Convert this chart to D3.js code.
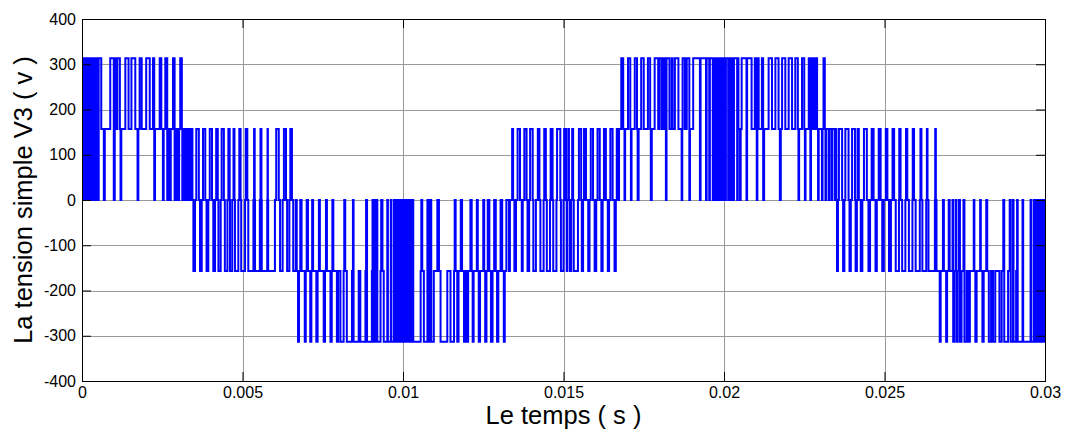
<!DOCTYPE html>
<html>
<head>
<meta charset="utf-8">
<script src="https://cdn.jsdelivr.net/npm/d3@7"></script>
<style>
  body { margin: 0; background: #fff; }
  svg { display: block; }
  text { font-family: "Liberation Sans", Arial, sans-serif; }
</style>
</head>
<body>
<svg width="1070" height="434"></svg>
<script>
// axes
const xTicks = [0, 0.005, 0.01, 0.015, 0.02, 0.025, 0.03];
const yTicks = [-400, -300, -200, -100, 0, 100, 200, 300, 400];

const v3_0to3 = [
  [0, 313], [0.02, 0], [0.045, 313], [0.07, 0], [0.095, 313], [0.14, 0], [0.165, 313], [0.21, 0], [0.235, 313],
  [0.285, 0], [0.31, 313], [0.36, 0], [0.385, 313], [0.42, 0], [0.445, 313], [0.495, 0], [0.52, 313],
  [0.6, 157], [0.68, 0], [0.71, 157], [0.88, 313], [0.99, 0], [1.02, 313], [1.04, 157], [1.1, 313], [1.18, 157],
  [1.2, 0], [1.225, 157], [1.35, 313], [1.45, 157], [1.54, 313], [1.66, 157], [1.73, 0], [1.755, 157], [1.795, 313],
  [1.86, 157], [2.0, 313], [2.11, 157], [2.21, 313], [2.25, 0], [2.275, 157], [2.42, 313], [2.47, 157], [2.52, 0],
  [2.545, 157], [2.595, 313], [2.655, 0], [2.68, 157], [2.74, 0], [2.765, 157], [2.835, 313], [2.885, 0], [2.91, 157],
  [2.955, 0], [2.98, 157]
];
const v3_3to6 = [
  [3.0, 0], [3.025, 157], [3.06, 313], [3.11, 157], [3.125, 0], [3.15, 157], [3.18, 0], [3.205, 157], [3.24, 0],
  [3.265, 157], [3.31, 0], [3.335, 157], [3.375, 0], [3.4, 157], [3.44, 0], [3.47, -157], [3.52, 0], [3.56, 157],
  [3.64, 0], [3.676, -157], [3.73, 0], [3.77, 157], [3.84, 0], [3.88, -157], [3.935, 0], [3.98, 157], [4.05, 0],
  [4.09, -157], [4.145, 0], [4.18, 157], [4.23, 0], [4.25, -157], [4.32, 0], [4.35, 157], [4.42, 0], [4.45, -157],
  [4.53, 0], [4.56, 157], [4.6, 0], [4.61, -157], [4.68, 0], [4.72, 157], [4.75, 0], [4.765, -157], [4.87, 0],
  [4.9, 157], [4.94, 0], [4.96, -157], [5.08, 0], [5.1, 157], [5.15, 0], [5.18, -157], [5.34, 0], [5.36, 157],
  [5.38, 0], [5.39, -157], [5.54, 0], [5.56, 157], [5.59, 0], [5.6, -157], [5.77, 0], [5.78, 157], [5.79, 0],
  [5.8, -157], [6.01, 0]
];
const v3_6to9 = [
  [6.05, 157], [6.13, 0], [6.17, -157], [6.25, 0], [6.29, 157], [6.355, 0], [6.39, -157], [6.46, 0], [6.49, 157],
  [6.54, 0], [6.58, -157], [6.66, 0], [6.69, -157], [6.73, -313], [6.76, -157], [6.8, 0], [6.84, -157], [6.94, -313],
  [6.97, -157], [7.0, 0], [7.04, -157], [7.11, -313], [7.145, -157], [7.17, 0], [7.2, -157], [7.3, -313], [7.34, -157],
  [7.38, 0], [7.41, -157], [7.53, -313], [7.57, -157], [7.6, 0], [7.63, -157], [7.74, -313], [7.78, -157], [7.8, 0],
  [7.83, -157], [7.94, -313], [7.98, -157], [8.05, -313], [8.15, -157], [8.17, 0], [8.2, -157], [8.25, -313],
  [8.41, -157], [8.44, 0], [8.46, -313], [8.62, -157], [8.67, -313], [8.83, -157], [8.85, 0], [8.88, -313], [9.03, -157]
];
const v3_9to12 = [
  [9.05, 0], [9.07, -313], [9.1, 0], [9.12, -313], [9.15, 0], [9.2, -313], [9.3, -157], [9.32, 0], [9.36, -157],
  [9.4, -313], [9.51, 0], [9.53, -313], [9.62, 0], [9.64, -313], [9.72, 0], [9.74, -313], [9.8, 0], [9.82, -313],
  [9.87, 0], [9.89, -313], [9.94, 0], [9.96, -313], [10.01, 0], [10.03, -313], [10.08, 0], [10.1, -313], [10.16, 0],
  [10.18, -313], [10.24, 0], [10.26, -313], [10.3, 0], [10.32, -313], [10.55, -157], [10.57, 0], [10.6, -157],
  [10.65, -313], [10.76, 0], [10.8, -313], [10.86, 0], [10.88, -313], [10.96, -157], [11.07, 0], [11.12, -157],
  [11.17, -313], [11.38, -157], [11.48, -313], [11.59, -157], [11.61, 0], [11.64, -157], [11.69, -313], [11.73, -157],
  [11.8, 0], [11.84, -157], [11.9, -313], [11.94, -157]
];
const v3_12to15 = [
  [12.0, -313], [12.03, -157], [12.1, 0], [12.14, -157], [12.17, -313], [12.2, -157], [12.3, 0], [12.33, -157],
  [12.36, -313], [12.4, -157], [12.5, 0], [12.53, -157], [12.56, -313], [12.6, -157], [12.64, 0], [12.69, -157],
  [12.74, -313], [12.79, -157], [12.84, 0], [12.89, -157], [12.93, -313], [12.97, -157], [13.04, 0], [13.09, -157],
  [13.14, -313], [13.17, -157], [13.22, 0], [13.3, -157], [13.33, 0], [13.4, 157], [13.43, 0], [13.47, -157],
  [13.52, 0], [13.57, 157], [13.645, 0], [13.7, -157], [13.73, 0], [13.78, 157], [13.85, 0], [13.88, -157],
  [13.93, 0], [13.96, 157], [14.04, 0], [14.06, -157], [14.14, 0], [14.2, 157], [14.25, 0], [14.28, -157],
  [14.38, 0], [14.4, 157], [14.45, 0], [14.48, -157], [14.58, 0], [14.6, 157], [14.66, 0], [14.68, -157],
  [14.78, 0], [14.8, 157], [14.9, 0], [14.92, -157], [15.0, 0], [15.02, 157]
];
const v3_15to18 = [
  [15.08, 0], [15.1, -157], [15.12, 0], [15.15, 157], [15.17, 0], [15.2, -157], [15.24, 0], [15.27, 157], [15.3, 0],
  [15.32, -157], [15.45, 0], [15.48, 157], [15.55, 0], [15.57, -157], [15.61, 0], [15.64, 157], [15.7, 0],
  [15.77, -157], [15.81, 0], [15.85, 157], [15.92, 0], [15.97, -157], [16.02, 0], [16.06, 157], [16.13, 0],
  [16.18, -157], [16.22, 0], [16.26, 157], [16.32, 0], [16.38, -157], [16.42, 0], [16.46, 157], [16.53, 0],
  [16.59, -157], [16.63, 0], [16.66, 157], [16.7, 0], [16.73, 157], [16.8, 313], [16.86, 157], [16.9, 0],
  [16.92, 157], [17.01, 313], [17.08, 157], [17.1, 0], [17.12, 157], [17.22, 313], [17.29, 157], [17.31, 0],
  [17.34, 157], [17.42, 313], [17.5, 157], [17.63, 313], [17.7, 157], [17.72, 0], [17.75, 157], [17.84, 313],
  [17.95, 157], [17.99, 313], [18.06, 157]
];
const v3_18to21 = [
  [18.1, 313], [18.11, 157], [18.13, 313], [18.19, 0], [18.21, 313], [18.3, 157], [18.37, 313], [18.4, 157],
  [18.47, 313], [18.58, 157], [18.68, 0], [18.7, 157], [18.71, 313], [18.78, 157], [18.84, 313], [18.92, 0],
  [18.94, 157], [19.04, 313], [19.25, 0], [19.27, 313], [19.44, 0], [19.46, 313], [19.54, 0], [19.56, 313],
  [19.65, 0], [19.67, 313], [19.72, 0], [19.74, 313], [19.8, 0], [19.82, 313], [19.88, 0], [19.9, 313],
  [19.96, 0], [19.98, 313], [20.04, 0], [20.06, 313], [20.13, 0], [20.15, 313], [20.21, 0], [20.23, 313],
  [20.29, 0], [20.31, 313], [20.41, 0], [20.43, 313], [20.45, 157], [20.5, 0], [20.52, 157], [20.55, 313],
  [20.7, 0], [20.72, 313], [20.86, 157], [20.96, 313], [21.02, 0]
];
const v3_21to24 = [
  [21.04, 313], [21.08, 157], [21.18, 313], [21.22, 0], [21.25, 157], [21.39, 313], [21.495, 157], [21.6, 313],
  [21.7, 157], [21.74, 0], [21.77, 157], [21.81, 313], [21.91, 157], [22.015, 313], [22.12, 157], [22.22, 313],
  [22.3, 157], [22.32, 0], [22.34, 157], [22.43, 313], [22.5, 157], [22.52, 0], [22.54, 157], [22.64, 313],
  [22.69, 0], [22.71, 157], [22.74, 313], [22.78, 157], [22.84, 313], [22.9, 157], [22.93, 0], [22.95, 157],
  [23.05, 0], [23.07, 157], [23.1, 313], [23.14, 157], [23.16, 0], [23.18, 157], [23.26, 0], [23.28, 157],
  [23.35, 0], [23.37, 157], [23.45, 0], [23.47, 157], [23.5, 0], [23.52, -157], [23.55, 0], [23.58, 157],
  [23.68, 0], [23.71, -157], [23.75, 0], [23.78, 157], [23.88, 0], [23.91, -157], [23.95, 0], [23.99, 157],
  [24.08, 0], [24.1, -157]
];
const v3_24to27 = [
  [24.14, 0], [24.16, 157], [24.2, 0], [24.26, -157], [24.31, 0], [24.36, 157], [24.45, 0], [24.5, -157],
  [24.55, 0], [24.6, 157], [24.66, 0], [24.72, -157], [24.76, 0], [24.82, 157], [24.88, 0], [24.93, -157],
  [24.98, 0], [25.04, 157], [25.09, 0], [25.14, -157], [25.2, 0], [25.25, 157], [25.3, 0], [25.35, -157],
  [25.45, 0], [25.46, 157], [25.5, 0], [25.55, -157], [25.65, 0], [25.67, 157], [25.71, 0], [25.76, -157],
  [25.87, 0], [25.88, 157], [25.92, 0], [25.97, -157], [26.1, 0], [26.12, 157], [26.15, 0], [26.18, -157],
  [26.3, 0], [26.32, 157], [26.34, 0], [26.37, -157], [26.57, 0], [26.58, 157], [26.6, 0], [26.62, -157],
  [26.72, -313], [26.75, -157], [26.82, 0], [26.85, -157], [26.92, -313], [26.95, -157], [27.0, 0], [27.03, -157]
];
const v3_27to30 = [
  [27.12, 0], [27.14, -313], [27.17, -157], [27.22, 0], [27.24, -313], [27.28, -157], [27.32, 0], [27.35, -313],
  [27.4, -157], [27.46, 0], [27.49, -313], [27.56, -157], [27.62, -313], [27.66, -157], [27.78, 0], [27.8, -157],
  [27.83, -313], [27.87, -157], [27.98, 0], [28.0, -157], [28.05, -313], [28.09, -157], [28.17, 0], [28.2, -157],
  [28.25, -313], [28.32, -157], [28.38, -313], [28.45, -157], [28.58, -313], [28.65, -157], [28.7, 0], [28.73, -313],
  [28.85, -157], [28.9, 0], [28.93, -313], [29.0, 0], [29.02, -313], [29.1, -157], [29.13, 0], [29.15, -313],
  [29.3, 0], [29.32, -313], [29.55, 0], [29.57, -313], [29.65, 0], [29.67, -313], [29.73, 0], [29.75, -313],
  [29.8, 0], [29.82, -313], [29.88, 0], [29.9, -313], [29.96, 0], [29.98, -313], [30.0, -313]
];

const svg = d3.select("svg");
const W = 1070, H = 434;
const pL = 82, pR = 1045, pT = 19, pB = 381;

svg.append("rect").attr("width", W).attr("height", H).attr("fill", "#fff");

const x = d3.scaleLinear().domain([0, 0.03]).range([pL, pR]);
const y = d3.scaleLinear().domain([-400, 400]).range([pB, pT]);

// grid
const grid = svg.append("g").attr("stroke", "#9a9a9a").attr("stroke-width", 1).attr("shape-rendering", "crispEdges");
grid.selectAll(".gx").data(xTicks.slice(1, -1)).join("line")
  .attr("x1", d => Math.round(x(d)) + 0.5).attr("x2", d => Math.round(x(d)) + 0.5)
  .attr("y1", pT).attr("y2", pB);
grid.selectAll(".gy").data(yTicks.slice(1, -1)).join("line")
  .attr("y1", d => Math.round(y(d)) + 0.5).attr("y2", d => Math.round(y(d)) + 0.5)
  .attr("x1", pL).attr("x2", pR);

// waveform
const pts = [].concat(v3_0to3, v3_3to6, v3_6to9, v3_9to12, v3_12to15,
  v3_15to18, v3_18to21, v3_21to24, v3_24to27, v3_27to30).sort((a, b) => a[0] - b[0]);

svg.append("clipPath").attr("id", "clip").append("rect")
  .attr("x", pL).attr("y", pT - 2).attr("width", pR - pL).attr("height", pB - pT + 4);

const line = d3.line()
  .x(d => x(d[0] / 1000))
  .y(d => y(d[1]))
  .curve(d3.curveStepAfter);

svg.append("path")
  .datum(pts)
  .attr("clip-path", "url(#clip)")
  .attr("fill", "none")
  .attr("stroke", "#0000ff")
  .attr("stroke-width", 2)
  .attr("stroke-linejoin", "miter")
  .attr("d", line);

// axes (ticks inside, matlab style)
function styleAxis(g) {
  g.select(".domain").remove();
  g.selectAll(".tick line").attr("stroke", "#000");
  g.selectAll("text").attr("fill", "#000").style("font-size", "16px")
    .style("font-family", "'Liberation Sans', Arial, sans-serif");
}
svg.append("g").attr("transform", `translate(0,${pB})`)
  .call(d3.axisBottom(x).tickValues(xTicks).tickSize(-9).tickPadding(6).tickFormat(d => String(d)))
  .call(styleAxis);
svg.append("g").attr("transform", `translate(${pL},0)`)
  .call(d3.axisLeft(y).tickValues(yTicks).tickSize(-9).tickPadding(6).tickFormat(d => String(d)))
  .call(styleAxis);
svg.append("g").attr("transform", `translate(0,${pT})`)
  .call(d3.axisTop(x).tickValues(xTicks).tickSize(-9).tickFormat(""))
  .call(styleAxis);
svg.append("g").attr("transform", `translate(${pR},0)`)
  .call(d3.axisRight(y).tickValues(yTicks).tickSize(-9).tickFormat(""))
  .call(styleAxis);

svg.append("rect")
  .attr("x", pL + 0.5).attr("y", pT + 0.5)
  .attr("width", pR - pL).attr("height", pB - pT)
  .attr("fill", "none").attr("stroke", "#000").attr("stroke-width", 1);

// labels
svg.append("text")
  .attr("x", (pL + pR) / 2).attr("y", 424)
  .attr("text-anchor", "middle").style("font-size", "25.5px")
  .text("Le temps ( s )");
svg.append("text")
  .attr("transform", `translate(32,${(pT + pB) / 2}) rotate(-90)`)
  .attr("text-anchor", "middle").style("font-size", "25.5px")
  .text("La tension simple V3 ( v )");
</script>
</body>
</html>
